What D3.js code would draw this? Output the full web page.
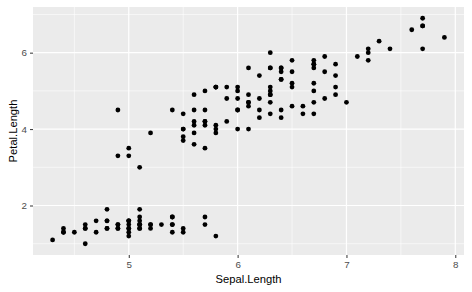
<!DOCTYPE html>
<html>
<head>
<meta charset="utf-8">
<script src="https://cdn.jsdelivr.net/npm/d3@7"></script>
<style>
  body { margin: 0; background: #fff; }
  svg { display: block; font-family: "Liberation Sans", Arial, sans-serif; }
</style>
</head>
<body>
<script>
// iris: Sepal.Length vs Petal.Length
var sepalLength = [
  5.1,4.9,4.7,4.6,5.0,5.4,4.6,5.0,4.4,4.9,5.4,4.8,4.8,4.3,5.8,5.7,5.4,5.1,5.7,5.1,
  5.4,5.1,4.6,5.1,4.8,5.0,5.0,5.2,5.2,4.7,4.8,5.4,5.2,5.5,4.9,5.0,5.5,4.9,4.4,5.1,
  5.0,4.5,4.4,5.0,5.1,4.8,5.1,4.6,5.3,5.0,
  7.0,6.4,6.9,5.5,6.5,5.7,6.3,4.9,6.6,5.2,5.0,5.9,6.0,6.1,5.6,6.7,5.6,5.8,6.2,5.6,
  5.9,6.1,6.3,6.1,6.4,6.6,6.8,6.7,6.0,5.7,5.5,5.5,5.8,6.0,5.4,6.0,6.7,6.3,5.6,5.5,
  5.5,6.1,5.8,5.0,5.6,5.7,5.7,6.2,5.1,5.7,
  6.3,5.8,7.1,6.3,6.5,7.6,4.9,7.3,6.7,7.2,6.5,6.4,6.8,5.7,5.8,6.4,6.5,7.7,7.7,6.0,
  6.9,5.6,7.7,6.3,6.7,7.2,6.2,6.1,6.4,7.2,7.4,7.9,6.4,6.3,6.1,7.7,6.3,6.4,6.0,6.9,
  6.7,6.9,5.8,6.8,6.7,6.7,6.3,6.5,6.2,5.9
];
var petalLength = [
  1.4,1.4,1.3,1.5,1.4,1.7,1.4,1.5,1.4,1.5,1.5,1.6,1.4,1.1,1.2,1.5,1.3,1.4,1.7,1.5,
  1.7,1.5,1.0,1.7,1.9,1.6,1.6,1.5,1.4,1.6,1.6,1.5,1.5,1.4,1.5,1.2,1.3,1.4,1.3,1.5,
  1.3,1.3,1.3,1.6,1.9,1.4,1.6,1.4,1.5,1.4,
  4.7,4.5,4.9,4.0,4.6,4.5,4.7,3.3,4.6,3.9,3.5,4.2,4.0,4.7,3.6,4.4,4.5,4.1,4.5,3.9,
  4.8,4.0,4.9,4.7,4.3,4.4,4.8,5.0,4.5,3.5,3.8,3.7,3.9,5.1,4.5,4.5,4.7,4.4,4.1,4.0,
  4.4,4.6,4.0,3.3,4.2,4.2,4.2,4.3,3.0,4.1,
  6.0,5.1,5.9,5.6,5.8,6.6,4.5,6.3,5.8,6.1,5.1,5.3,5.5,5.0,5.1,5.3,5.5,6.7,6.9,5.0,
  5.7,4.9,6.7,4.9,5.7,6.0,4.8,4.9,5.6,5.8,6.1,6.4,5.6,5.1,5.6,6.1,5.6,5.5,4.8,5.4,
  5.6,5.1,5.1,5.9,5.7,5.2,5.0,5.2,5.4,5.1
];
var xTicks = [5, 6, 7, 8];
var yTicks = [2, 4, 6];
var xMinor = [4.5, 5.5, 6.5, 7.5];
var yMinor = [1, 3, 5, 7];
var xTitle = "Sepal.Length";
var yTitle = "Petal.Length";

var W = 472, H = 292;
var margin = {top: 7, right: 8, bottom: 37, left: 33},
    width = W - margin.left - margin.right,
    height = H - margin.top - margin.bottom;

var svg = d3.select("body").append("svg")
    .attr("width", W)
    .attr("height", H);

var g = svg.append("g")
    .attr("transform", "translate(" + margin.left + "," + margin.top + ")");

// ggplot-style 5% expansion
function expand(ext) {
  var d = (ext[1] - ext[0]) * 0.05;
  return [ext[0] - d, ext[1] + d];
}
var x = d3.scaleLinear().domain(expand(d3.extent(sepalLength))).range([0, width]);
var y = d3.scaleLinear().domain(expand(d3.extent(petalLength))).range([height, 0]);

// panel background
g.append("rect")
    .attr("width", width)
    .attr("height", height)
    .attr("fill", "#EBEBEB");

// minor grid
g.selectAll(".xminor").data(xMinor).enter().append("line")
    .attr("x1", function(d) { return x(d); }).attr("x2", function(d) { return x(d); })
    .attr("y1", 0).attr("y2", height)
    .attr("stroke", "#fff").attr("stroke-width", 0.6);
g.selectAll(".yminor").data(yMinor).enter().append("line")
    .attr("y1", function(d) { return y(d); }).attr("y2", function(d) { return y(d); })
    .attr("x1", 0).attr("x2", width)
    .attr("stroke", "#fff").attr("stroke-width", 0.6);

// major grid
g.selectAll(".xmajor").data(xTicks).enter().append("line")
    .attr("x1", function(d) { return x(d); }).attr("x2", function(d) { return x(d); })
    .attr("y1", 0).attr("y2", height)
    .attr("stroke", "#fff").attr("stroke-width", 1.2);
g.selectAll(".ymajor").data(yTicks).enter().append("line")
    .attr("y1", function(d) { return y(d); }).attr("y2", function(d) { return y(d); })
    .attr("x1", 0).attr("x2", width)
    .attr("stroke", "#fff").attr("stroke-width", 1.2);

// points
g.selectAll(".pt").data(sepalLength).enter().append("circle")
    .attr("cx", function(d) { return x(d); })
    .attr("cy", function(d, i) { return y(petalLength[i]); })
    .attr("r", 2.4)
    .attr("fill", "#000");

// axes
var xAxis = d3.axisBottom(x).tickValues(xTicks).tickSize(3).tickPadding(3).tickFormat(d3.format("d"));
var yAxis = d3.axisLeft(y).tickValues(yTicks).tickSize(3).tickPadding(3).tickFormat(d3.format("d"));

var gx = g.append("g")
    .attr("transform", "translate(0," + height + ")")
    .call(xAxis);
var gy = g.append("g").call(yAxis);

[gx, gy].forEach(function(a) {
  a.select(".domain").remove();
  a.selectAll(".tick line").attr("stroke", "#333333").attr("stroke-width", 1);
  a.selectAll(".tick text")
    .attr("fill", "#4D4D4D")
    .style("font-size", "9.8px")
    .style("font-family", "'Liberation Sans', Arial, sans-serif");
});

// axis titles
svg.append("text")
    .attr("x", margin.left + width / 2)
    .attr("y", 283)
    .attr("text-anchor", "middle")
    .attr("fill", "#000")
    .style("font-size", "11.2px")
    .text(xTitle);

svg.append("text")
    .attr("transform", "translate(17," + (margin.top + height / 2) + ") rotate(-90)")
    .attr("text-anchor", "middle")
    .attr("fill", "#000")
    .style("font-size", "11.2px")
    .text(yTitle);
</script>
</body>
</html>
